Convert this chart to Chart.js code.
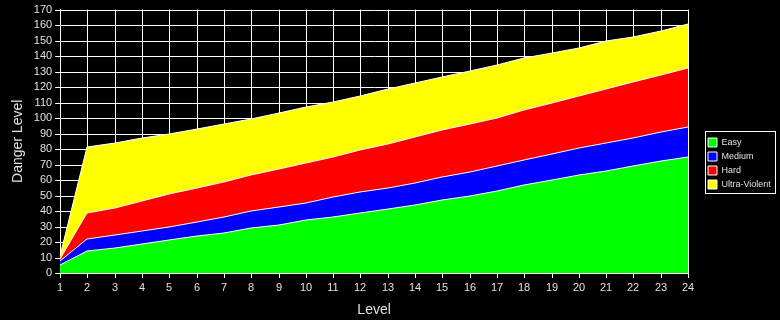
<!DOCTYPE html>
<html>
<head>
<meta charset="utf-8">
<script src="https://cdn.jsdelivr.net/npm/chart.js@4"></script>
<style>
    html, body { margin: 0; padding: 0; background: #000; }
    #wrap { width: 780px; height: 320px; position: relative; }
</style>
</head>
<body>
<div id="wrap"><canvas id="danger-chart"></canvas></div>
<script>
// Data (per-difficulty increments, stacked)
const levels       = ["1","2","3","4","5","6","7","8","9","10","11","12","13","14","15","16","17","18","19","20","21","22","23","24"];
const easy         = [5, 14, 16, 19, 21, 24, 26, 29, 31, 34, 36, 39, 41, 44, 47, 50, 53, 57, 60, 63, 66, 69, 72, 75];
const medium       = [2.5, 8, 8.5, 8, 9, 9, 10, 11, 11.5, 11, 13, 13, 14, 14, 15, 15, 16, 16, 17, 17.5, 18, 18, 19, 19];
const hard         = [1.5, 17, 17.5, 19.5, 21, 22, 23, 23, 24.5, 26, 26, 27.5, 28.5, 29.5, 30, 31, 31, 32, 32.5, 33.5, 34.5, 36, 37, 38];
const ultraViolent = [2, 42.5, 42, 40.5, 39, 38, 37, 36.5, 36, 36, 35.5, 35, 35, 35, 34.5, 34.5, 34.5, 33.5, 32.5, 31.5, 31, 29.5, 28.5, 28.5];

const textColor = "#e0e0e0";
const fontFamily = "'Liberation Sans', Arial, sans-serif";
const legendWidthPx = 92;   // space right of the plot
const legendGapPx = 15;     // plot edge -> legend items
const legendBoxW = 70;

function area(label, data, color, fill) {
    return {
        label: label,
        data: data,
        backgroundColor: color,
        borderColor: "#ffffff",
        borderWidth: 1,
        pointRadius: 0,
        tension: 0,
        fill: fill
    };
}

// fixed legend column with a gap, boxed like the original
const legendBox = {
    id: "legendBox",
    beforeLayout(chart) {
        const lg = chart.legend;
        if (lg && !lg._fixPatched) {
            const fit = lg.fit;
            lg.fit = function () {
                fit.call(this);
                this.width = legendWidthPx;
            };
            lg._fixPatched = true;
        }
    },
    afterLayout(chart) {
        if (chart.legend) chart.legend.left += legendGapPx;
    },
    afterDraw(chart) {
        const lg = chart.legend;
        const boxes = lg && lg.legendHitBoxes;
        if (!boxes || !boxes.length) return;
        let t = Infinity, b = -Infinity;
        boxes.forEach((h) => {
            t = Math.min(t, h.top);
            b = Math.max(b, h.top + h.height);
        });
        const ctx = chart.ctx;
        ctx.save();
        ctx.strokeStyle = "#ffffff";
        ctx.lineWidth = 1;
        ctx.strokeRect(Math.round(lg.left) + 2.5, Math.round(t) - 6.5, legendBoxW, Math.round(b - t) + 11);
        ctx.restore();
    }
};

new Chart(document.getElementById("danger-chart"), {
    type: "line",
    data: {
        labels: levels,
        datasets: [
            area("Easy", easy, "#00ff00", "origin"),
            area("Medium", medium, "#0000ff", "-1"),
            area("Hard", hard, "#ff0000", "-1"),
            area("Ultra-Violent", ultraViolent, "#ffff00", "-1")
        ]
    },
    options: {
        responsive: true,
        maintainAspectRatio: false,
        animation: false,
        layout: { padding: { top: 8, right: 0, bottom: 1, left: 10 } },
        plugins: {
            legend: {
                position: "right",
                labels: {
                    color: textColor,
                    boxWidth: 9,
                    boxHeight: 9,
                    padding: 5,
                    font: { family: fontFamily, size: 9 }
                }
            },
            tooltip: { enabled: false }
        },
        scales: {
            x: {
                offset: false,
                alignToPixels: true,
                grid: { color: "#ffffff", lineWidth: 1, tickLength: 5 },
                border: { color: "#ffffff" },
                ticks: { color: textColor, font: { family: fontFamily, size: 11 }, maxRotation: 0, autoSkip: false, padding: 3 },
                title: { display: true, text: "Level", color: textColor, font: { family: fontFamily, size: 14 }, padding: { top: 5, bottom: 0 } }
            },
            y: {
                stacked: true,
                min: 0,
                max: 170,
                alignToPixels: true,
                grid: { color: "#ffffff", lineWidth: 1, tickLength: 5 },
                border: { color: "#ffffff" },
                ticks: { stepSize: 10, autoSkip: false, color: textColor, font: { family: fontFamily, size: 11 }, padding: 3 },
                title: { display: true, text: "Danger Level", color: textColor, font: { family: fontFamily, size: 14 }, padding: { top: 0, bottom: 4 } }
            }
        }
    },
    plugins: [legendBox]
});
</script>
</body>
</html>
